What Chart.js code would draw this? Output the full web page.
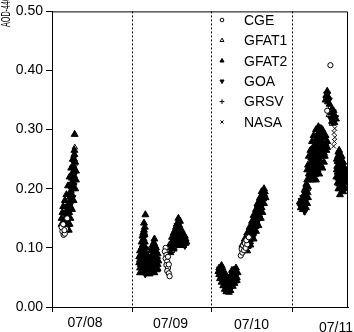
<!DOCTYPE html>
<html lang="en">
<head>
  <meta charset="UTF-8">
  <title>AOD-440</title>
  <script src="https://cdn.jsdelivr.net/npm/chart.js"></script>
  <style>
    body {
      margin: 0;
      padding: 0;
      background: #fff;
    }
    #wrap {
      width: 354px;
      height: 332px;
    }
  </style>
</head>
<body>

<div id="wrap"><canvas id="aodChart"></canvas></div>

<script>
  // day labels (x axis is in days since 07/08 00:00)
  const days = ['07/08', '07/09', '07/10', '07/11'];
  const yTicks = [0, 0.1, 0.2, 0.3, 0.4, 0.5];

  // series values, [day, AOD-440]
  const cge = [
    [0.13,0.128],[0.145,0.122],[0.16,0.124],[0.12,0.135],[0.14,0.14],[0.175,0.132],[0.155,0.13],[0.19,0.15],
    [1.42,0.1],[1.41,0.094],[1.43,0.088],[1.42,0.082],[1.44,0.077],[1.43,0.071],[1.45,0.066],[1.44,0.061],
    [1.46,0.057],[1.47,0.052],[1.45,0.085],[1.46,0.072],
    [2.36,0.087],[2.38,0.092],[2.37,0.098],[2.4,0.096],[2.39,0.104],[2.42,0.1],[2.41,0.108],[2.44,0.106],
    [2.43,0.113],[2.46,0.118],
    [3.48,0.409],[3.44,0.332]
  ];

  const gfat1 = [
    [0.27,0.255],[0.24,0.21],[0.2,0.18],[0.17,0.16],[0.285,0.27],
    [1.16,0.125],[1.14,0.108],[1.5,0.095],[1.53,0.1],[1.59,0.12],[1.27,0.11],
    [2.45,0.112],[2.5,0.12],[2.58,0.158],[2.62,0.18],[2.18,0.05],[2.53,0.14],
    [3.48,0.338],[3.46,0.325],[3.5,0.31],[3.3,0.25],[3.37,0.27],[3.2,0.2],[3.6,0.22],[3.34,0.29]
  ];

  const gfat2 = [
    // 07/08
    [0.283,0.292],[0.28,0.265],[0.28,0.258],[0.275,0.25],[0.29,0.245],[0.27,0.238],[0.285,0.232],[0.26,0.228],
    [0.275,0.222],[0.25,0.218],[0.265,0.212],[0.245,0.205],[0.26,0.2],[0.235,0.196],[0.25,0.19],[0.225,0.186],
    [0.24,0.18],[0.21,0.176],[0.23,0.17],[0.2,0.166],[0.215,0.16],[0.185,0.157],[0.205,0.152],[0.17,0.15],
    [0.19,0.145],[0.16,0.142],[0.18,0.138],[0.15,0.135],[0.2,0.14],[0.17,0.13],
    [0.12,0.15],[0.13,0.16],[0.14,0.17],[0.16,0.18],[0.18,0.19],[0.2,0.205],[0.22,0.22],[0.24,0.235],
    [0.26,0.25],[0.23,0.15],[0.25,0.165],[0.27,0.18],[0.29,0.2],[0.3,0.215],[0.3,0.23],[0.22,0.14],
    [0.21,0.13],[0.12,0.14],
    // 07/09
    [1.167,0.156],[1.15,0.13],[1.155,0.122],[1.145,0.115],[1.16,0.11],[1.14,0.105],[1.155,0.1],[1.13,0.096],
    [1.16,0.092],[1.12,0.088],[1.14,0.085],[1.17,0.084],[1.1,0.08],[1.13,0.078],[1.16,0.076],[1.19,0.078],
    [1.11,0.072],[1.14,0.07],[1.17,0.068],[1.2,0.07],[1.1,0.066],[1.13,0.063],[1.16,0.062],[1.19,0.064],
    [1.22,0.066],[1.12,0.06],[1.15,0.058],[1.18,0.058],[1.21,0.06],[1.09,0.075],
    [1.09,0.085],[1.1,0.095],[1.12,0.1],[1.12,0.11],[1.13,0.12],[1.17,0.1],[1.18,0.09],[1.19,0.085],
    [1.2,0.078],[1.21,0.072],[1.23,0.075],[1.22,0.056],[1.1,0.058],[1.14,0.125],[1.16,0.135],[1.15,0.142],
    [1.28,0.115],[1.275,0.108],[1.29,0.103],[1.265,0.098],[1.3,0.095],[1.26,0.09],[1.285,0.088],[1.31,0.085],
    [1.25,0.082],[1.275,0.078],[1.3,0.075],[1.32,0.072],[1.24,0.072],[1.265,0.068],[1.29,0.065],[1.31,0.063],
    [1.25,0.062],[1.28,0.058],
    [1.235,0.085],[1.24,0.095],[1.25,0.1],[1.26,0.105],[1.3,0.1],[1.32,0.09],[1.33,0.078],[1.32,0.065],
    [1.58,0.15],[1.575,0.143],[1.59,0.138],[1.565,0.135],[1.6,0.132],[1.555,0.128],[1.585,0.126],[1.615,0.125],
    [1.54,0.122],[1.57,0.12],[1.6,0.118],[1.63,0.118],[1.52,0.116],[1.55,0.113],[1.585,0.112],[1.62,0.11],
    [1.65,0.112],[1.5,0.11],[1.535,0.106],[1.57,0.105],[1.6,0.104],[1.64,0.104],[1.67,0.108],[1.49,0.1],
    [1.52,0.098],[1.48,0.092],
    [1.55,0.135],[1.62,0.13],[1.64,0.122],[1.67,0.115],[1.68,0.11],[1.5,0.118],[1.52,0.125],[1.54,0.13],
    [1.56,0.14],[1.6,0.145],[1.47,0.105],[1.66,0.12],
    // 07/10
    [2.09,0.066],[2.11,0.068],[2.1,0.06],[2.125,0.062],[2.11,0.054],[2.14,0.056],[2.13,0.048],[2.155,0.05],
    [2.15,0.042],[2.175,0.045],[2.17,0.036],[2.19,0.038],[2.185,0.03],[2.21,0.032],[2.2,0.027],[2.225,0.036],
    [2.24,0.042],[2.215,0.045],[2.255,0.048],[2.27,0.052],[2.24,0.055],[2.285,0.056],[2.3,0.06],[2.27,0.062],
    [2.31,0.05],[2.29,0.044],[2.2,0.04],
    [2.08,0.06],[2.09,0.055],[2.1,0.048],[2.12,0.042],[2.14,0.036],[2.16,0.03],[2.18,0.026],[2.21,0.025],
    [2.23,0.028],[2.26,0.035],[2.28,0.04],[2.31,0.045],[2.32,0.058],[2.3,0.066],[2.25,0.062],[2.12,0.07],
    [2.13,0.066],[2.16,0.058],[2.22,0.05],[2.26,0.045],
    [2.65,0.2],[2.635,0.195],[2.655,0.19],[2.62,0.188],[2.64,0.183],[2.61,0.18],[2.63,0.175],[2.595,0.172],
    [2.62,0.168],[2.58,0.165],[2.61,0.162],[2.56,0.16],[2.59,0.156],[2.545,0.153],[2.575,0.15],[2.53,0.146],
    [2.56,0.143],[2.515,0.14],[2.545,0.136],[2.5,0.133],[2.53,0.13],[2.48,0.127],[2.51,0.124],[2.46,0.12],
    [2.49,0.117],[2.44,0.113],[2.47,0.11],[2.42,0.106],[2.45,0.103],[2.4,0.1],
    [2.38,0.105],[2.41,0.115],[2.44,0.125],[2.47,0.135],[2.5,0.145],[2.52,0.155],[2.55,0.165],[2.57,0.175],
    [2.6,0.185],[2.62,0.195],[2.44,0.095],[2.48,0.105],[2.52,0.115],[2.55,0.128],[2.58,0.138],[2.61,0.15],
    [2.63,0.16],[2.65,0.175],[2.67,0.185],[2.66,0.195],
    // 07/11
    [3.19,0.215],[3.18,0.208],[3.2,0.203],[3.165,0.2],[3.19,0.195],[3.15,0.19],[3.18,0.187],[3.2,0.185],
    [3.14,0.182],[3.165,0.178],[3.19,0.175],[3.12,0.175],[3.15,0.172],[3.175,0.168],[3.11,0.168],[3.135,0.165],
    [3.16,0.17],[3.1,0.178],
    [3.36,0.302],[3.34,0.296],[3.39,0.294],[3.31,0.29],[3.36,0.288],[3.41,0.286],[3.29,0.282],[3.33,0.28],
    [3.38,0.278],[3.42,0.276],[3.27,0.272],[3.31,0.27],[3.35,0.268],[3.4,0.266],[3.26,0.262],[3.3,0.26],
    [3.34,0.258],[3.38,0.256],[3.24,0.252],[3.28,0.25],[3.32,0.248],[3.36,0.246],[3.23,0.242],[3.27,0.24],
    [3.31,0.238],[3.35,0.236],[3.22,0.232],[3.26,0.23],[3.3,0.228],[3.21,0.225],[3.25,0.222],[3.29,0.224],
    [3.2,0.24],[3.21,0.255],[3.23,0.265],[3.25,0.28],[3.27,0.29],[3.3,0.3],[3.33,0.305],[3.38,0.3],
    [3.42,0.29],[3.44,0.28],[3.43,0.265],[3.41,0.255],[3.4,0.245],[3.38,0.235],[3.34,0.225],[3.3,0.215],
    [3.26,0.215],[3.22,0.215],[3.19,0.232],[3.44,0.27],[3.32,0.232],[3.36,0.24],[3.4,0.26],[3.28,0.258],
    [3.24,0.245],
    [3.44,0.365],[3.43,0.358],[3.455,0.355],[3.42,0.35],[3.45,0.347],[3.47,0.343],[3.5,0.335],[3.52,0.332],
    [3.49,0.328],[3.53,0.325],[3.51,0.32],[3.55,0.318],[3.5,0.314],[3.53,0.312],
    [3.58,0.262],[3.575,0.255],[3.6,0.252],[3.57,0.246],[3.6,0.244],[3.625,0.24],[3.565,0.238],[3.59,0.235],
    [3.62,0.232],[3.645,0.232],[3.57,0.228],[3.6,0.225],[3.63,0.222],[3.66,0.224],[3.58,0.218],[3.61,0.215],
    [3.64,0.212],[3.67,0.215],[3.59,0.208],[3.62,0.205],[3.65,0.203],[3.6,0.2],[3.63,0.196],
    [3.56,0.25],[3.56,0.232],[3.555,0.22],[3.57,0.21],[3.58,0.2],[3.6,0.19],[3.64,0.195],[3.67,0.2],
    [3.68,0.21],[3.68,0.225],[3.66,0.235],[3.64,0.245],[3.62,0.255],[3.59,0.265]
  ];

  const goa = [
    [0.27,0.245],[0.26,0.235],[0.28,0.225],[0.255,0.215],[0.27,0.205],[0.24,0.2],[0.255,0.185],[0.22,0.19],
    [0.235,0.175],[0.205,0.17],[0.22,0.162],[0.19,0.165],[0.2,0.158],[0.175,0.155],[0.16,0.148],[0.185,0.148],
    [0.155,0.14],[0.17,0.142],[0.14,0.133],[0.19,0.135],[0.165,0.128],[0.15,0.125],
    [1.15,0.118],[1.135,0.1],[1.165,0.098],[1.15,0.09],[1.125,0.082],[1.15,0.08],[1.18,0.072],[1.105,0.07],
    [1.14,0.066],[1.2,0.062],[1.235,0.064],[1.165,0.056],[1.27,0.1],[1.28,0.09],[1.255,0.075],[1.3,0.07],
    [1.27,0.062],[1.31,0.08],
    [1.57,0.138],[1.595,0.128],[1.55,0.12],[1.58,0.115],[1.61,0.115],[1.64,0.11],[1.53,0.11],[1.56,0.108],
    [1.6,0.108],[1.66,0.104],[1.5,0.105],
    [2.1,0.064],[2.12,0.058],[2.14,0.052],[2.16,0.046],[2.18,0.04],[2.2,0.034],[2.22,0.04],[2.25,0.044],
    [2.28,0.05],[2.3,0.055],[2.26,0.058],[2.23,0.03],[2.19,0.05],
    [2.64,0.192],[2.6,0.178],[2.625,0.172],[2.57,0.168],[2.6,0.165],[2.555,0.155],[2.535,0.148],[2.57,0.145],
    [2.52,0.138],[2.5,0.128],[2.535,0.125],[2.47,0.122],[2.5,0.115],[2.455,0.112],[2.43,0.108],[2.475,0.105],
    [2.41,0.098],
    [3.18,0.2],[3.16,0.192],[3.14,0.185],[3.17,0.18],[3.12,0.18],[3.145,0.175],[3.1,0.172],[3.13,0.17],[3.16,0.162],
    [3.35,0.292],[3.32,0.284],[3.37,0.283],[3.3,0.276],[3.35,0.274],[3.4,0.272],[3.28,0.266],[3.32,0.264],
    [3.37,0.262],[3.25,0.256],[3.3,0.254],[3.35,0.252],[3.25,0.246],[3.29,0.244],[3.33,0.242],[3.24,0.236],
    [3.28,0.234],[3.23,0.228],[3.27,0.226],[3.24,0.218],
    [3.44,0.36],[3.43,0.352],[3.46,0.35],[3.51,0.33],[3.54,0.32],[3.49,0.318],
    [3.585,0.25],[3.61,0.238],[3.58,0.232],[3.635,0.228],[3.59,0.222],[3.62,0.218],[3.655,0.218],[3.6,0.212],
    [3.63,0.208],[3.61,0.202]
  ];

  const grsv = [
    [0.25,0.2],[0.18,0.15],[0.28,0.24],
    [1.47,0.098],[1.51,0.102],[1.15,0.075],[1.62,0.12],
    [2.4,0.1],[2.48,0.118],[2.6,0.17],
    [3.146,0.162],[3.2,0.19],[3.25,0.23],[3.62,0.21],[3.4,0.28]
  ];

  const nasa = [
    [0.22,0.18],[0.26,0.23],[0.16,0.135],
    [1.49,0.104],[1.55,0.125],[1.19,0.07],
    [2.44,0.115],[2.55,0.15],[2.24,0.048],
    [3.53,0.318],[3.525,0.31],[3.535,0.302],[3.525,0.295],[3.535,0.287],[3.53,0.28],[3.52,0.272],
    [3.28,0.24],[3.64,0.225]
  ];

  const series = [
    { label: 'CGE',   data: cge,   pointStyle: 'circle',   radius: 2.6, fill: '#fff', rotation: 0 },
    { label: 'GFAT1', data: gfat1, pointStyle: 'triangle', radius: 3.2, fill: 'rgba(0,0,0,0)', rotation: 0 },
    { label: 'GFAT2', data: gfat2, pointStyle: 'triangle', radius: 4, fill: '#000', rotation: 0 },
    { label: 'GOA',   data: goa,   pointStyle: 'triangle', radius: 4, fill: '#000', rotation: 180 },
    { label: 'GRSV',  data: grsv,  pointStyle: 'cross',    radius: 3.5, fill: '#000', rotation: 0 },
    { label: 'NASA',  data: nasa,  pointStyle: 'crossRot', radius: 3.2, fill: '#000', rotation: 0 }
  ];

  const FONT = '"Liberation Sans", Arial, Helvetica, sans-serif';

  // legend, top/right frame, day labels and axis title
  const extras = {
    id: 'extras',
    afterDraw(chart) {
      const { ctx, chartArea: a, scales } = chart;
      ctx.save();
      ctx.strokeStyle = '#000';
      ctx.lineWidth = 1;
      ctx.beginPath();
      ctx.moveTo(a.left, a.top + 0.5);
      ctx.lineTo(a.right - 0.5, a.top + 0.5);
      ctx.lineTo(a.right - 0.5, a.bottom);
      ctx.stroke();

      // day labels under the axis
      const nudge = [[-7, -1], [-1.5, 0], [-0.5, 1], [4, 4]];
      ctx.fillStyle = '#000';
      ctx.font = '14px ' + FONT;
      ctx.textAlign = 'center';
      ctx.textBaseline = 'middle';
      days.forEach((d, i) => {
        const x = scales.x.getPixelForValue(i + 0.5) + nudge[i][0];
        ctx.fillText(d, x, a.bottom + 17 + nudge[i][1]);
      });

      // y title: squeezed into the top corner like the original
      ctx.save();
      ctx.font = '12px ' + FONT;
      ctx.textAlign = 'left';
      ctx.textBaseline = 'alphabetic';
      ctx.translate(10, 27);
      ctx.rotate(-Math.PI / 2);
      ctx.scale(0.6, 1);
      ctx.fillText('AOD-440', 0, 0);
      ctx.restore();

      // legend
      ctx.textAlign = 'left';
      ctx.textBaseline = 'middle';
      series.forEach((s, i) => {
        const y = 20 + i * 20.4;
        ctx.fillStyle = s.fill;
        ctx.strokeStyle = '#000';
        if (Chart.helpers && Chart.helpers.drawPoint) {
          Chart.helpers.drawPoint(ctx, {
            pointStyle: s.pointStyle, rotation: s.rotation,
            radius: Math.min(s.radius, 3.4) * 0.7, borderWidth: 1
          }, 222, y);
        }
        ctx.fillStyle = '#000';
        ctx.fillText(s.label, 244, y + 1);
      });
      ctx.restore();
    }
  };

  const ctx = document.getElementById('aodChart').getContext('2d');
  new Chart(ctx, {
    type: 'scatter',
    data: {
      datasets: series.map(s => ({
        label: s.label,
        data: s.data.map(([x, y]) => ({ x, y })),
        pointStyle: s.pointStyle,
        pointRotation: s.rotation,
        pointRadius: s.radius,
        pointBackgroundColor: s.fill,
        pointBorderColor: '#000',
        pointBorderWidth: 1
      }))
    },
    options: {
      responsive: true,
      maintainAspectRatio: false,
      animation: false,
      layout: { padding: { top: 7, right: 6, left: 0, bottom: 0 } },
      plugins: {
        legend: { display: false },
        tooltip: { enabled: false }
      },
      scales: {
        x: {
          type: 'linear',
          min: 0,
          max: 3.7,
          afterBuildTicks: scale => { scale.ticks = days.map((d, i) => ({ value: i })); },
          afterFit: scale => { scale.height = 25; },
          ticks: { callback: () => '', padding: 0 },
          grid: {
            color: '#000',
            lineWidth: 1,
            tickLength: 5,
            tickColor: '#000'
          },
          border: { color: '#000', width: 1, dash: [2, 2] }
        },
        y: {
          min: 0,
          max: 0.5,
          afterBuildTicks: scale => { scale.ticks = yTicks.map(v => ({ value: v })); },
          afterFit: scale => { scale.width = 52; },
          ticks: {
            color: '#000',
            padding: 3,
            font: { size: 14, family: FONT },
            callback: v => Number(v).toFixed(2)
          },
          grid: {
            drawOnChartArea: false,
            tickLength: 6,
            tickColor: '#000'
          },
          border: { color: '#000', width: 1 }
        }
      }
    },
    plugins: [extras]
  });
</script>

</body>
</html>
